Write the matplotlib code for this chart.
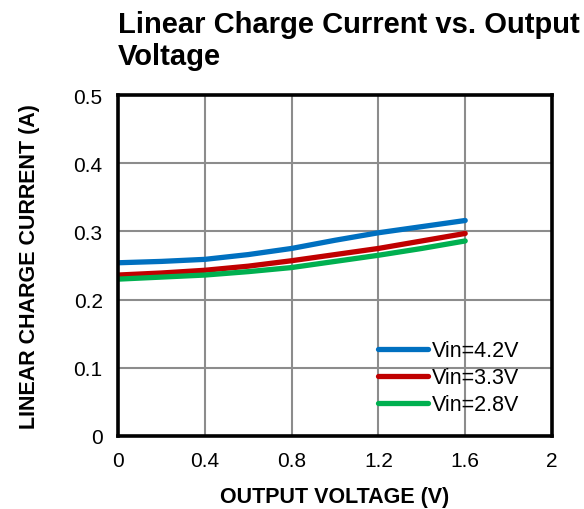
import numpy as np
import matplotlib.pyplot as plt

plt.rcParams['font.family'] = ['Liberation Sans', 'DejaVu Sans']

# data
vout = [0, 0.2, 0.4, 0.6, 0.8, 1.0, 1.2, 1.4, 1.6]
i_42 = [0.254, 0.256, 0.259, 0.266, 0.275, 0.287, 0.298, 0.307, 0.316]
i_33 = [0.236, 0.239, 0.243, 0.249, 0.257, 0.266, 0.275, 0.286, 0.297]
i_28 = [0.230, 0.233, 0.236, 0.241, 0.247, 0.256, 0.265, 0.275, 0.286]
labels = ['Vin=4.2V', 'Vin=3.3V', 'Vin=2.8V']
colors = ['#0070C0', '#C00000', '#00B050']

fig = plt.figure(figsize=(5.84, 5.1), dpi=100)
ax = fig.add_axes([118/584, 73/510, 434/584, 341/510])

for y, lab, c in zip([i_42, i_33, i_28], labels, colors):
    ax.plot(vout, y, color=c, lw=3.8, label=lab, solid_capstyle='round')

ax.set_xlim(0, 2)
ax.set_ylim(0, 0.5)
ax.set_xticks([0, 0.4, 0.8, 1.2, 1.6, 2])
ax.set_xticklabels(['0', '0.4', '0.8', '1.2', '1.6', '2'])
ax.set_yticks([0, 0.1, 0.2, 0.3, 0.4, 0.5])
ax.set_yticklabels(['0', '0.1', '0.2', '0.3', '0.4', '0.5'])
ax.grid(True, color='#8c8c8c', lw=1.5)
ax.set_axisbelow(True)
ax.tick_params(length=0, labelsize=15, pad=11)
for s in ax.spines.values():
    s.set_linewidth(2.6)
    s.set_color('black')

ax.set_xlabel('OUTPUT VOLTAGE (V)', fontsize=15.5, fontweight='bold', labelpad=11)
ax.set_ylabel('LINEAR CHARGE CURRENT (A)', fontsize=15.5, fontweight='bold', labelpad=24)

ax.legend(loc='lower right', frameon=False, fontsize=15.5, handlelength=2.3,
          handletextpad=0.2, labelspacing=0.28, borderaxespad=0,
          bbox_to_anchor=(0.945, 0.035))

fig.text(118/584, 1 - 11/510, 'Linear Charge Current vs. Output\nVoltage', fontsize=21,
         fontweight='bold', va='top', ha='left', linespacing=1.2)

fig.savefig('out.png', dpi=100)
